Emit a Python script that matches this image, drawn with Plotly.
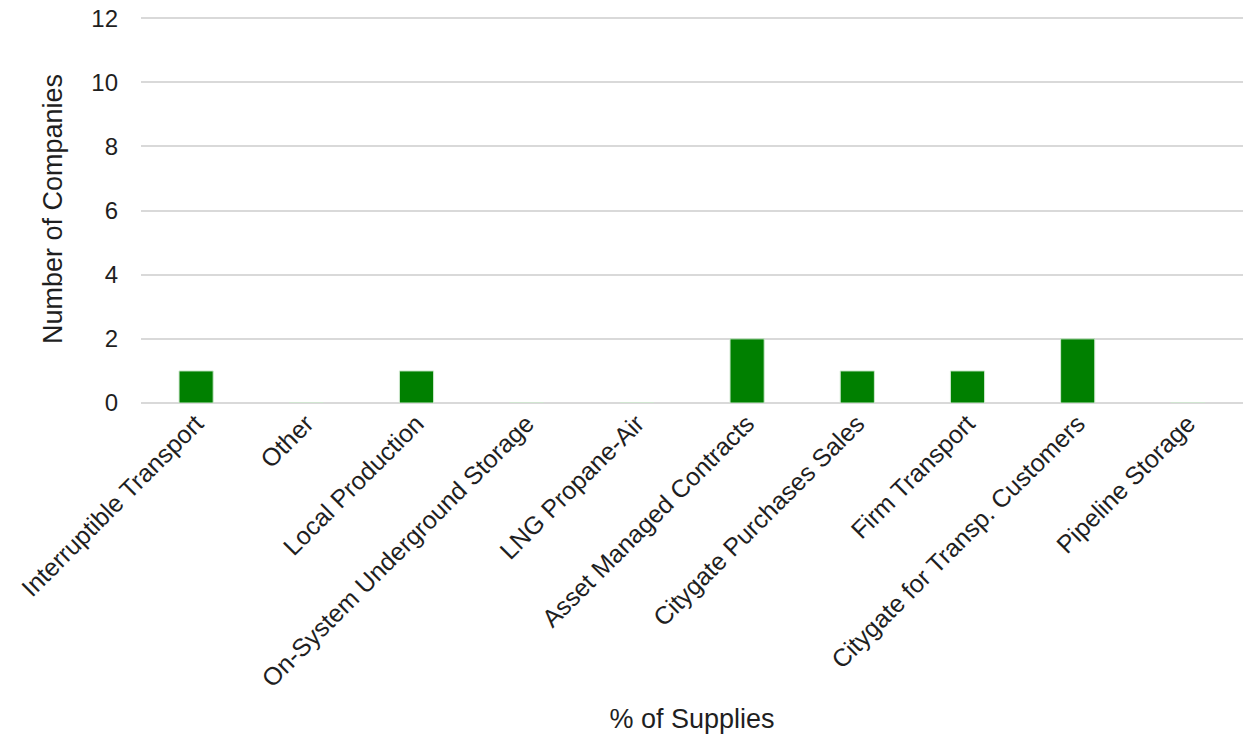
import plotly.graph_objects as go

categories = [
    "Interruptible Transport",
    "Other",
    "Local Production",
    "On-System Underground Storage",
    "LNG Propane-Air",
    "Asset Managed Contracts",
    "Citygate Purchases Sales",
    "Firm Transport",
    "Citygate for Transp. Customers",
    "Pipeline Storage",
]
companies = [1, 0, 1, 0, 0, 2, 1, 1, 2, 0]
y_ticks = [0, 2, 4, 6, 8, 10, 12]

FONT = "Liberation Sans, Arial, sans-serif"
TXT = "#1f1f1f"

fig = go.Figure(
    go.Bar(
        x=categories,
        y=companies,
        marker=dict(color="#008000", line=dict(color="#cfe8cf", width=1)),
    )
)

fig.update_layout(
    width=1243,
    height=734,
    margin=dict(l=141, r=0, t=15, b=331),
    paper_bgcolor="white",
    plot_bgcolor="white",
    bargap=0.69,
    showlegend=False,
    font=dict(family=FONT, size=24, color=TXT),
)

fig.update_xaxes(
    tickangle=-45,
    tickfont=dict(family=FONT, size=25, color=TXT),
    showgrid=False,
    showline=False,
    ticks="",
    automargin=False,
    title=dict(text="% of Supplies", font=dict(family=FONT, size=27, color=TXT), standoff=19),
)

fig.update_yaxes(
    range=[0, 12.1],
    tickvals=y_ticks,
    tickfont=dict(family=FONT, size=24, color=TXT),
    ticklabeloverflow="allow",
    showgrid=True,
    gridcolor="#d9d9d9",
    gridwidth=1.5,
    zeroline=True,
    zerolinecolor="#d9d9d9",
    zerolinewidth=1.5,
    showline=False,
    ticks="",
    ticklabelstandoff=22,
    automargin=False,
    title=dict(text="Number of Companies", font=dict(family=FONT, size=27, color=TXT), standoff=20),
)

fig.write_html(
    "out.html",
    config={"displayModeBar": False},
    post_script="document.body.style.margin='0px';document.body.style.overflow='hidden';",
)
